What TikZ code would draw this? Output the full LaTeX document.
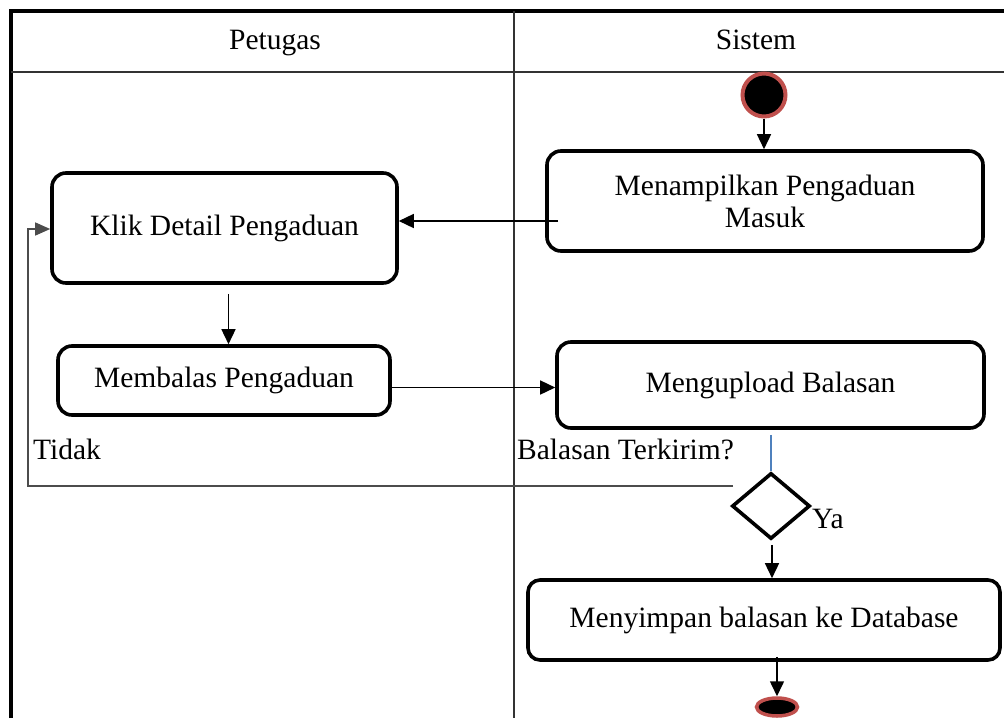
\documentclass[tikz,border=0pt]{standalone}
\usepackage{fontspec}
\setmainfont{Liberation Serif}
\usetikzlibrary{arrows.meta,shapes.geometric}
\definecolor{ringred}{RGB}{192,80,77}
\definecolor{flowblue}{RGB}{79,129,189}
\tikzset{
  act/.style={draw=black, line width=3.6pt, rounded corners=14pt, inner sep=0pt,
    align=center, font=\fontsize{29.5}{32}\selectfont},
  lbl/.style={inner sep=0pt, font=\fontsize{29.5}{32}\selectfont},
  flow/.style={draw=black, line width=1.5pt, -{Triangle[length=15pt,width=14pt]}},
  loopline/.style={draw=black!70, line width=1.3pt, -{Triangle[length=15pt,width=13pt]}},
  lane/.style={draw=black!80, line width=1.5pt},
  frame/.style={draw=black, line width=4pt}
}
\begin{document}
\begin{tikzpicture}[x=1pt,y=-1pt]
\useasboundingbox (0,0) rectangle (1004,718);

% swimlane frame
\draw[frame] (10.5,718) -- (10.5,10.5) -- (1004,10.5);
\draw[lane] (10.5,72) -- (1004,72);
\draw[lane] (514,10.5) -- (514,718);
\node[lbl, anchor=base] (hpetugas) at (275,49) {Petugas};
\node[lbl, anchor=base] (hsistem) at (756,49) {Sistem};

% initial and final states
\node[circle, fill=black, draw=ringred, line width=4pt, minimum size=43pt, inner sep=0pt] (start) at (764,95) {};
\node[ellipse, fill=black, draw=ringred, line width=3.5pt, minimum width=41pt, minimum height=18pt, inner sep=0pt] (stop) at (777,707) {};

% activities
\node[act, minimum width=436pt, minimum height=100pt] (tampil) at (765,201) {Menampilkan Pengaduan\\Masuk};
\node[act, minimum width=345pt, minimum height=110pt] (klik) at (224.5,228) {Klik Detail Pengaduan};
\node[act, minimum width=332pt, minimum height=69pt] (balas) at (224,380.5) {Membalas Pengaduan};
\node[act, minimum width=427pt, minimum height=86pt] (upload) at (770.5,385) {Mengupload Balasan};
\node[act, rounded corners=12pt, minimum width=472pt, minimum height=80pt] (simpan) at (764,620) {Menyimpan balasan ke Database};
\node[diamond, draw=black, line width=3.6pt, minimum width=78pt, minimum height=66pt, inner sep=0pt] (cek) at (771,506) {};

% labels
\node[lbl, anchor=west] (ltidak) at (33,449) {Tidak};
\node[lbl, anchor=west] (ltanya) at (517,449) {Balasan Terkirim?};
\node[lbl, anchor=west] (lya) at (812,519) {Ya};

% helper points
\coordinate (tampilout) at (558,221);
\coordinate (tidakout) at (733,486);
\coordinate (tidakcorner) at (28,486);

% connectors
\draw[flow] (start.south) -- (start.south |- tampil.north);
\draw[flow] (tampilout) -- (tampilout -| klik.east);
\draw[flow] ([xshift=4pt,yshift=-9pt]klik.south) -- ([xshift=4pt]klik.south |- balas.north);
\draw[flow] ([yshift=-7pt]balas.east) -- ([yshift=-7pt]balas.east -| upload.west);
\draw[draw=flowblue, line width=1.2pt] ([yshift=-5pt]upload.south -| cek.north) -- (cek.north);
\draw[flow] ([xshift=1pt,yshift=-4pt]cek.south) -- ([xshift=1pt]cek.south |- simpan.north);
\draw[flow] ([yshift=5pt]simpan.south -| stop.north) -- (stop.north);
\draw[loopline] (tidakout) -- (tidakcorner) |- ([yshift=-1pt]klik.west);
\end{tikzpicture}
\end{document}
